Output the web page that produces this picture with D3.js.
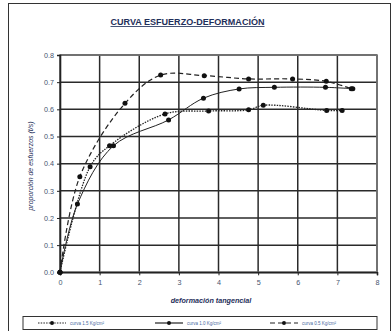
<!DOCTYPE html>
<html><head><meta charset="utf-8">
<script src="https://cdn.jsdelivr.net/npm/d3@7"></script>
<style>body{margin:0;background:#fff}svg{display:block}</style>
</head><body>
<script>
const title = "CURVA ESFUERZO-DEFORMACIÓN";
const xLabel = "deformación tangencial";
const yLabel = "proporción de esfuerzos (t/s)";
const xTicks = [0,1,2,3,4,5,6,7,8];
const yTicks = [0,0.1,0.2,0.3,0.4,0.5,0.6,0.7,0.8];
const seriesNames = ["curva 1.5 Kg/cm²","curva 1.0 Kg/cm²","curva 0.5 Kg/cm²"];
const x15 = [0,0.76,1.25,2.65,3.75,4.76,5.13,6.73,7.12];
const y15 = [0,0.389,0.466,0.583,0.594,0.598,0.615,0.596,0.596];
const x10 = [0,0.44,1.35,2.74,3.62,4.52,5.41,6.70,7.39];
const y10 = [0,0.251,0.466,0.561,0.641,0.675,0.681,0.681,0.676];
const x05 = [0,0.5,1.64,2.54,3.64,4.76,5.87,6.72,7.35];
const y05 = [0,0.352,0.622,0.726,0.724,0.712,0.712,0.703,0.676];

const W=392,H=331;
const FF="Liberation Sans, Arial, sans-serif";
const svg=d3.select("body").append("svg").attr("width",W).attr("height",H);
svg.append("rect").attr("x",8.5).attr("y",3.5).attr("width",382).attr("height",H).attr("fill","#fff").attr("stroke","#333").attr("stroke-width",1);

const x=d3.scaleLinear().domain([0,8]).range([60,377]);
const y=d3.scaleLinear().domain([0,0.8]).range([272.3,55]);

// grid
const g=svg.append("g");
g.selectAll(".vg").data(xTicks).join("line").attr("x1",d=>x(d)).attr("x2",d=>x(d)).attr("y1",y(0)).attr("y2",y(0.8)).attr("stroke","#2a2a2a").attr("stroke-width",1.5);
g.selectAll(".hg").data(yTicks).join("line").attr("x1",x(0)).attr("x2",x(8)).attr("y1",d=>y(d)).attr("y2",d=>y(d)).attr("stroke","#2a2a2a").attr("stroke-width",1.5);
svg.append("rect").attr("x",x(0)).attr("y",y(0.8)).attr("width",x(8)-x(0)).attr("height",y(0)-y(0.8)).attr("fill","none").attr("stroke","#777").attr("stroke-width",1.6);

// axes
const xa=svg.append("g").attr("transform",`translate(0,${y(0)})`).call(d3.axisBottom(x).tickValues(xTicks).tickSize(3).tickFormat(d3.format("d")));
const ya=svg.append("g").attr("transform",`translate(${x(0)},0)`).call(d3.axisLeft(y).tickValues(yTicks).tickSize(3).tickFormat(d3.format(".1f")));
[xa,ya].forEach(a=>{a.select(".domain").attr("stroke","#222").attr("stroke-width",1.6);a.selectAll(".tick line").attr("stroke","#222");a.selectAll("text").attr("fill","#46536e").attr("font-family",FF).attr("font-size",7.2);});
xa.selectAll("text").attr("dy","0.9em");

const line=d3.line().x(d=>x(d[0])).y(d=>y(d[1])).curve(d3.curveCatmullRom.alpha(0.5));
const series=[
 {xs:x15,ys:y15,dash:"1.5,1.2",w:1.3},
 {xs:x10,ys:y10,dash:null,w:1},
 {xs:x05,ys:y05,dash:"5,3",w:1.2}
];
series.forEach(s=>{
  const pts=s.xs.map((v,i)=>[v,s.ys[i]]);
  svg.append("path").datum(pts).attr("d",line).attr("fill","none").attr("stroke","#222").attr("stroke-width",s.w).attr("stroke-dasharray",s.dash);
  svg.append("g").selectAll("circle").data(pts).join("circle").attr("cx",d=>x(d[0])).attr("cy",d=>y(d[1])).attr("r",2.5).attr("fill","#111");
});

// title
svg.append("text").attr("x",187.5).attr("y",25).attr("text-anchor","middle").attr("font-family",FF).attr("font-weight","bold").attr("font-size",8.2).attr("fill","#1f2f5a").attr("text-decoration","underline").attr("textLength",154).attr("lengthAdjust","spacingAndGlyphs").text(title);
svg.append("text").attr("x",211).attr("y",303).attr("text-anchor","middle").attr("font-family",FF).attr("font-weight","bold").attr("font-style","italic").attr("font-size",7.2).attr("fill","#1f2f5a").text(xLabel);
svg.append("text").attr("transform","translate(33,166) rotate(-90)").attr("text-anchor","middle").attr("font-family",FF).attr("font-style","italic").attr("font-size",7).attr("fill","#1f2f5a").text(yLabel);

// legend
svg.append("rect").attr("x",23).attr("y",316.5).attr("width",354).attr("height",13).attr("fill","#fff").attr("stroke","#333").attr("stroke-width",1);
const lx=[38,155,270];
series.forEach((s,i)=>{
  const lg=svg.append("g").attr("transform",`translate(${lx[i]},323)`);
  lg.append("line").attr("x1",0).attr("x2",28).attr("stroke","#222").attr("stroke-width",1.2).attr("stroke-dasharray",s.dash);
  lg.append("circle").attr("cx",14).attr("r",2).attr("fill","#111");
  lg.append("text").attr("x",32).attr("y",1.5).attr("font-family",FF).attr("font-size",4.5).attr("fill","#4a6aa0").text(seriesNames[i]);
});
</script>
</body></html>
